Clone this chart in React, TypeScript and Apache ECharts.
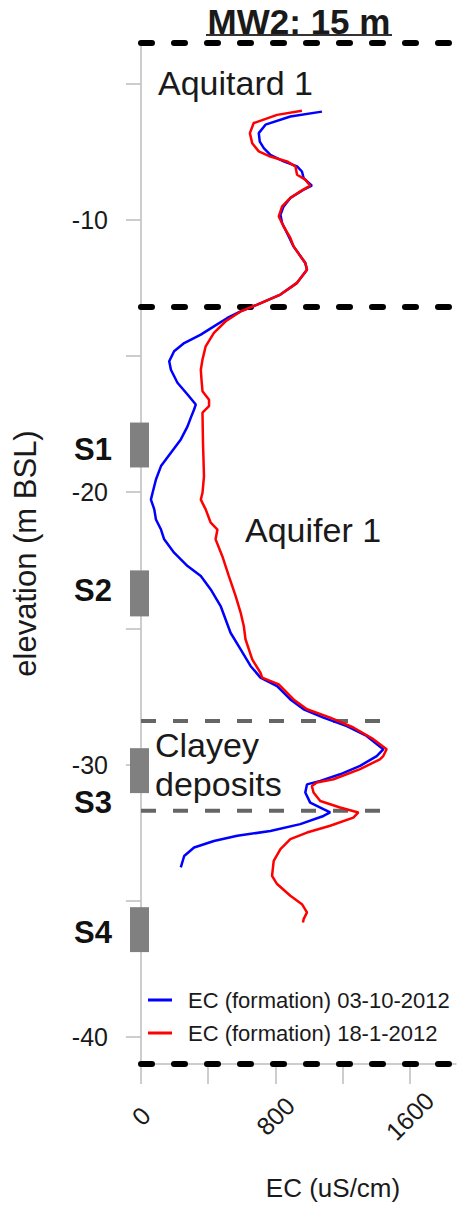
import React, { useEffect, useRef } from 'react';
import * as echarts from 'echarts';

const FONT = '"Liberation Sans", Arial, Helvetica, sans-serif';

// EC profiles (uS/cm) versus elevation (m BSL)
const blueName = 'EC (formation) 03-10-2012';
const blueEC = [1077, 889, 741, 701, 707, 731, 770, 849, 929, 958, 968, 1017, 968, 889, 849, 830, 840, 869, 908, 978, 988, 929, 830, 692, 593, 514, 434, 356, 257, 197, 168, 178, 217, 277, 326, 316, 296, 277, 237, 178, 119, 89, 69, 59, 79, 89, 119, 138, 197, 277, 356, 415, 474, 533, 593, 652, 711, 810, 889, 968, 1086, 1225, 1343, 1442, 1403, 1304, 1185, 1067, 988, 978, 1007, 1086, 1126, 1086, 948, 770, 573, 434, 316, 257, 237];
const blueElev = [-6.02, -6.2, -6.5, -6.81, -7.12, -7.36, -7.61, -7.85, -8.03, -8.22, -8.46, -8.74, -8.89, -9.19, -9.5, -9.81, -10.11, -10.48, -10.97, -11.58, -11.83, -12.31, -12.74, -13.11, -13.36, -13.6, -13.91, -14.21, -14.52, -14.82, -15.19, -15.5, -15.98, -16.41, -16.78, -16.96, -17.27, -17.58, -18.06, -18.55, -19.04, -19.53, -20.02, -20.27, -20.63, -21.0, -21.37, -21.73, -22.22, -22.71, -23.08, -23.57, -24.18, -25.16, -25.77, -26.38, -26.81, -27.12, -27.61, -27.97, -28.28, -28.59, -28.95, -29.44, -29.69, -30.05, -30.36, -30.6, -30.73, -31.03, -31.4, -31.64, -31.76, -31.89, -32.19, -32.44, -32.62, -32.81, -33.05, -33.36, -33.78];

const redName = 'EC (formation) 18-1-2012';
const redEC = [958, 810, 671, 648, 662, 701, 770, 869, 919, 929, 978, 1007, 948, 889, 840, 820, 849, 889, 908, 978, 988, 929, 830, 692, 593, 504, 434, 385, 366, 356, 360, 366, 405, 405, 366, 369, 375, 366, 356, 385, 415, 455, 444, 484, 523, 563, 593, 612, 622, 662, 711, 721, 820, 908, 988, 1126, 1264, 1383, 1462, 1442, 1422, 1304, 1146, 1047, 1017, 1027, 1067, 1185, 1294, 1264, 1126, 988, 889, 830, 790, 780, 810, 889, 958, 988, 968, 964];
const redElev = [-5.99, -6.14, -6.44, -6.81, -7.18, -7.48, -7.67, -7.85, -8.03, -8.34, -8.52, -8.74, -8.95, -9.19, -9.5, -9.87, -10.24, -10.66, -10.97, -11.58, -11.83, -12.31, -12.74, -13.11, -13.36, -13.72, -14.15, -14.64, -15.13, -15.5, -15.86, -16.29, -16.6, -16.84, -17.08, -18.19, -19.41, -20.02, -20.27, -20.63, -21.12, -21.37, -21.73, -22.35, -23.08, -23.81, -24.42, -24.92, -25.4, -26.14, -26.63, -26.81, -27.06, -27.61, -27.97, -28.28, -28.64, -29.07, -29.44, -29.69, -29.81, -30.17, -30.54, -30.66, -30.79, -31.03, -31.34, -31.58, -31.76, -31.95, -32.25, -32.5, -32.74, -33.11, -33.54, -34.09, -34.39, -34.82, -35.13, -35.43, -35.68, -35.8];

// layer boundaries (m BSL)
const layerBoundaries = [-3.5, -13.2, -41.0];
const clayBoundaries = [-28.4, -31.7];
const clayLineEnd = 1464;

// screen (sampling) intervals
const sampleNames = ['S1', 'S2', 'S3', 'S4'];
const sampleTop = [-17.44, -22.87, -29.4, -35.24];
const sampleBottom = [-19.09, -24.56, -31.05, -36.89];
const sampleLabelElev = [-18.43, -23.6, -31.39, -36.16];

// axes
const yMin = -41.0;
const yMax = -3.5;
const yTicks = [-40, -35, -30, -25, -20, -15, -10, -5];
const yLabels = [-40, -30, -20, -10];
const xMin = 0;
const xMax = 1875;
const xTicks = [0, 400, 800, 1200, 1600];
const xLabels = [0, 800, 1600];

const TEXT = '#1a1a1a';
const AXIS = '#bdbdbd';

function buildOption(): any {
  return {
    animation: false,
    backgroundColor: '#ffffff',
    textStyle: { fontFamily: FONT },
    grid: { left: 141, top: 43, width: 315, height: 1021 },
    legend: {
      data: [blueName, redName],
      orient: 'vertical',
      left: 143,
      top: 984,
      itemWidth: 24,
      itemHeight: 3,
      itemGap: 11,
      icon: 'rect',
      selectedMode: false,
      textStyle: { fontSize: 22, color: TEXT, fontFamily: FONT, lineHeight: 22, padding: [0, 0, 0, 11] },
    },
    xAxis: {
      type: 'value',
      min: xMin,
      max: xMax,
      splitLine: { show: false },
      axisLine: { show: true, lineStyle: { color: AXIS, width: 1.5 } },
      axisTick: { show: true, length: 20, customValues: xTicks, lineStyle: { color: AXIS, width: 1.5 } },
      axisLabel: {
        customValues: xLabels,
        formatter: (v: number) => String(v),
        rotate: 45,
        align: 'center',
        verticalAlign: 'middle',
        margin: 52,
        fontSize: 25,
        color: TEXT,
        fontFamily: FONT,
      },
    },
    yAxis: {
      type: 'value',
      min: yMin,
      max: yMax,
      name: 'elevation (m BSL)',
      nameLocation: 'middle',
      nameGap: 100,
      nameRotate: 90,
      nameTextStyle: { fontSize: 31, color: TEXT, fontFamily: FONT },
      splitLine: { show: false },
      axisLine: { show: true, lineStyle: { color: AXIS, width: 1.5 } },
      axisTick: { show: true, length: 15, customValues: yTicks, lineStyle: { color: AXIS, width: 1.5 } },
      axisLabel: { customValues: yLabels, margin: 33, fontSize: 25, color: TEXT, fontFamily: FONT },
    },
    graphic: [
      {
        type: 'text',
        x: 299,
        y: 21,
        style: { text: 'MW2: 15 m', font: `bold 35px ${FONT}`, fill: TEXT, align: 'center', verticalAlign: 'middle' },
      },
      { type: 'line', shape: { x1: 206, y1: 35, x2: 392, y2: 35 }, style: { stroke: '#333', lineWidth: 2 } },
      {
        type: 'text',
        x: 158,
        y: 83,
        style: { text: 'Aquitard 1', font: `34px ${FONT}`, fill: TEXT, align: 'left', verticalAlign: 'middle' },
      },
      {
        type: 'text',
        x: 245,
        y: 530,
        style: { text: 'Aquifer 1', font: `34px ${FONT}`, fill: TEXT, align: 'left', verticalAlign: 'middle' },
      },
      {
        type: 'text',
        x: 155,
        y: 764,
        style: {
          text: 'Clayey\ndeposits',
          font: `34px ${FONT}`,
          lineHeight: 39,
          fill: TEXT,
          align: 'left',
          verticalAlign: 'middle',
        },
      },
      {
        type: 'text',
        x: 333,
        y: 1188,
        style: { text: 'EC (uS/cm)', font: `26px ${FONT}`, fill: TEXT, align: 'center', verticalAlign: 'middle' },
      },
    ],
    series: [
      {
        type: 'custom',
        name: 'layers',
        clip: false,
        silent: true,
        z: 1,
        data: layerBoundaries.map((v) => [0, v]),
        encode: { x: 0, y: 1 },
        renderItem: (params: any, api: any) => {
          const p = api.coord([0, api.value(1)]);
          const cs = params.coordSys;
          return {
            type: 'line',
            shape: { x1: cs.x, y1: p[1], x2: cs.x + cs.width, y2: p[1] },
            style: { stroke: '#000000', lineWidth: 6, lineDash: [11, 22], lineCap: 'round' },
          };
        },
      },
      {
        type: 'custom',
        name: 'clay',
        clip: false,
        silent: true,
        z: 1,
        data: clayBoundaries.map((v) => [clayLineEnd, v]),
        encode: { x: 0, y: 1 },
        renderItem: (params: any, api: any) => {
          const p0 = api.coord([0, api.value(1)]);
          const p1 = api.coord([api.value(0), api.value(1)]);
          return {
            type: 'line',
            shape: { x1: p0[0], y1: p0[1], x2: p1[0], y2: p1[1] },
            style: { stroke: '#666666', lineWidth: 4, lineDash: [15, 17], lineCap: 'butt' },
          };
        },
      },
      {
        type: 'custom',
        name: 'samples',
        clip: false,
        silent: true,
        z: 4,
        data: sampleTop.map((t, i) => [0, t, sampleBottom[i], sampleLabelElev[i]]),
        encode: { x: 0, y: 1 },
        renderItem: (params: any, api: any) => {
          const i = params.dataIndex;
          const top = api.coord([0, api.value(1)]);
          const bot = api.coord([0, api.value(2)]);
          const lab = api.coord([0, api.value(3)]);
          return {
            type: 'group',
            children: [
              {
                type: 'rect',
                shape: { x: top[0] - 11, y: top[1], width: 19, height: bot[1] - top[1] },
                style: { fill: '#808080' },
              },
              {
                type: 'text',
                x: top[0] - 29,
                y: lab[1],
                style: {
                  text: sampleNames[i],
                  font: `bold 31px ${FONT}`,
                  fill: '#111111',
                  align: 'right',
                  verticalAlign: 'middle',
                },
              },
            ],
          };
        },
      },
      {
        type: 'line',
        name: blueName,
        color: '#0000ff',
        z: 3,
        showSymbol: false,
        symbol: 'none',
        silent: true,
        lineStyle: { color: '#0000ff', width: 2.5 },
        data: blueEC.map((v, i) => [v, blueElev[i]]),
      },
      {
        type: 'line',
        name: redName,
        color: '#ff0000',
        z: 3,
        showSymbol: false,
        symbol: 'none',
        silent: true,
        lineStyle: { color: '#ff0000', width: 2.5 },
        data: redEC.map((v, i) => [v, redElev[i]]),
      },
    ],
  };
}

export default function App() {
  const ref = useRef<HTMLDivElement>(null);
  useEffect(() => {
    if (!ref.current) return;
    const chart = echarts.init(ref.current, null, { renderer: 'svg' });
    chart.setOption(buildOption());
    return () => {
      chart.dispose();
    };
  }, []);
  return (
    <div
      ref={ref}
      style={{ position: 'fixed', left: 0, top: 0, width: 458, height: 1206, background: '#ffffff' }}
    />
  );
}
